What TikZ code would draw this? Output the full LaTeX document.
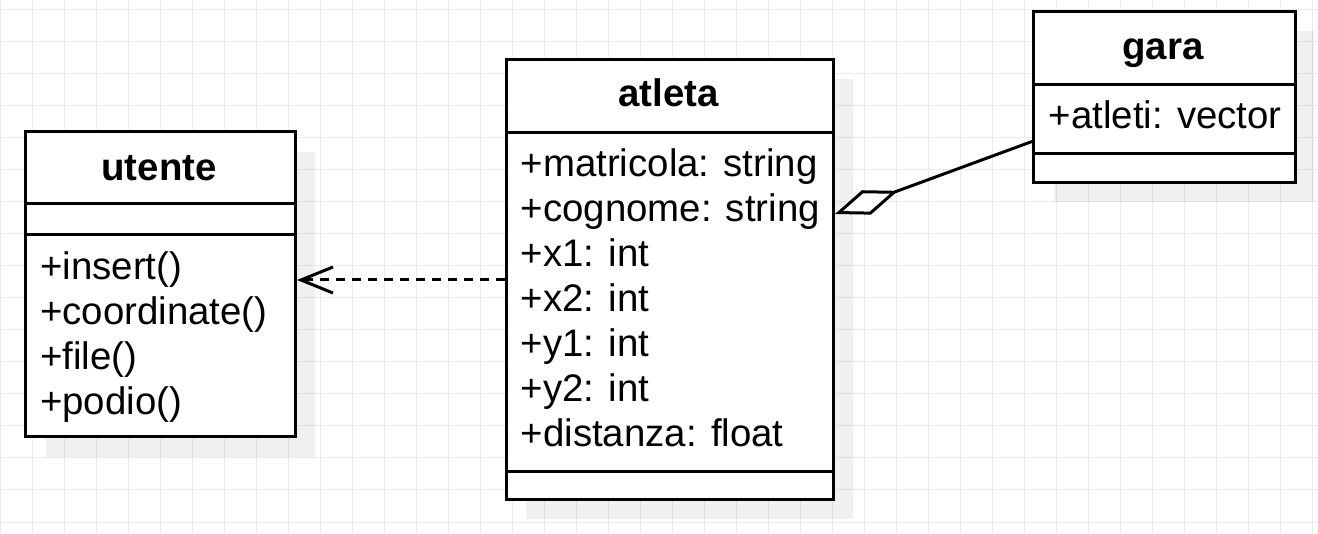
\documentclass[tikz,border=0pt]{standalone}
\usepackage{fontspec}
\setmainfont{Liberation Sans}
\usetikzlibrary{arrows.meta}
\definecolor{gridc}{HTML}{EBEBEB}
\tikzset{
  classbox/.style={draw=black, line width=3pt, fill=white, inner sep=0pt, anchor=north west},
  shadowbox/.style={fill=black, fill opacity=0.06, draw=none},
  sepline/.style={line width=3pt},
  title/.style={font=\fontsize{38.4}{45}\selectfont\bfseries, inner sep=0pt, anchor=base},
  member/.style={font=\fontsize{38.4}{45}\selectfont, inner sep=0pt, anchor=base west},
  gridline/.style={draw=gridc, line width=1pt},
  dep/.style={line width=3pt, dash pattern=on 9pt off 7pt, -{Straight Barb[length=32pt, width=26pt]}},
  agg/.style={line width=3pt, {Diamond[length=67pt, width=26pt, fill=white]}-},
}
\begin{document}
\begin{tikzpicture}[x=1pt,y=-1pt]
\useasboundingbox (0,0) rectangle (1318,534);
% grid
\foreach \i in {0,...,41} { \draw[gridline] (32*\i,0) -- (32*\i,534); }
\foreach \j in {0,...,16} { \draw[gridline] (0,10+32*\j) -- (1318,10+32*\j); }
% shadows
\fill[shadowbox] (46,152) rectangle (315,457);
\fill[shadowbox] (526,79) rectangle (853,519);
\fill[shadowbox] (1054,31) rectangle (1314,202);
% utente
\node[classbox, minimum width=270pt, minimum height=305pt] (utente) at (24,130) {};
\draw[sepline] (24,204) -- (294,204);
\draw[sepline] (24,234.5) -- (294,234.5);
\node[title] (utenteT) at (159,180.7) {utente};
\node[member] (u1) at (40,279.5) {+insert()};
\node[member] (u2) at (40,324.5) {+coordinate()};
\node[member] (u3) at (40,369.5) {+file()};
\node[member] (u4) at (40,414.5) {+podio()};
% atleta
\node[classbox, minimum width=327pt, minimum height=440.5pt] (atleta) at (505,58) {};
\draw[sepline] (505,132.3) -- (832,132.3);
\draw[sepline] (505,471.5) -- (832,471.5);
\node[title] (atletaT) at (668.5,106.7) {atleta};
\node[member] (a1) at (520.5,176.7) {+matricola: string};
\node[member] (a2) at (520.5,221.7) {+cognome: string};
\node[member] (a3) at (520.5,266.7) {+x1: int};
\node[member] (a4) at (520.5,311.7) {+x2: int};
\node[member] (a5) at (520.5,356.7) {+y1: int};
\node[member] (a6) at (520.5,401.7) {+y2: int};
\node[member] (a7) at (520.5,446.7) {+distanza: float};
% gara
\node[classbox, minimum width=262pt, minimum height=171pt] (gara) at (1032,10) {};
\draw[sepline] (1032,85) -- (1294,85);
\draw[sepline] (1032,154) -- (1294,154);
\node[title] (garaT) at (1163,59.5) {gara};
\node[member] (g1) at (1048.5,128.3) {+atleti: vector};
% connectors
\draw[dep] (atleta.west |- 0,280) -- (utente.east |- 0,280);
\draw[agg] (atleta.east |- 0,214) -- (gara.west |- 0,141.5);
\end{tikzpicture}
\end{document}
